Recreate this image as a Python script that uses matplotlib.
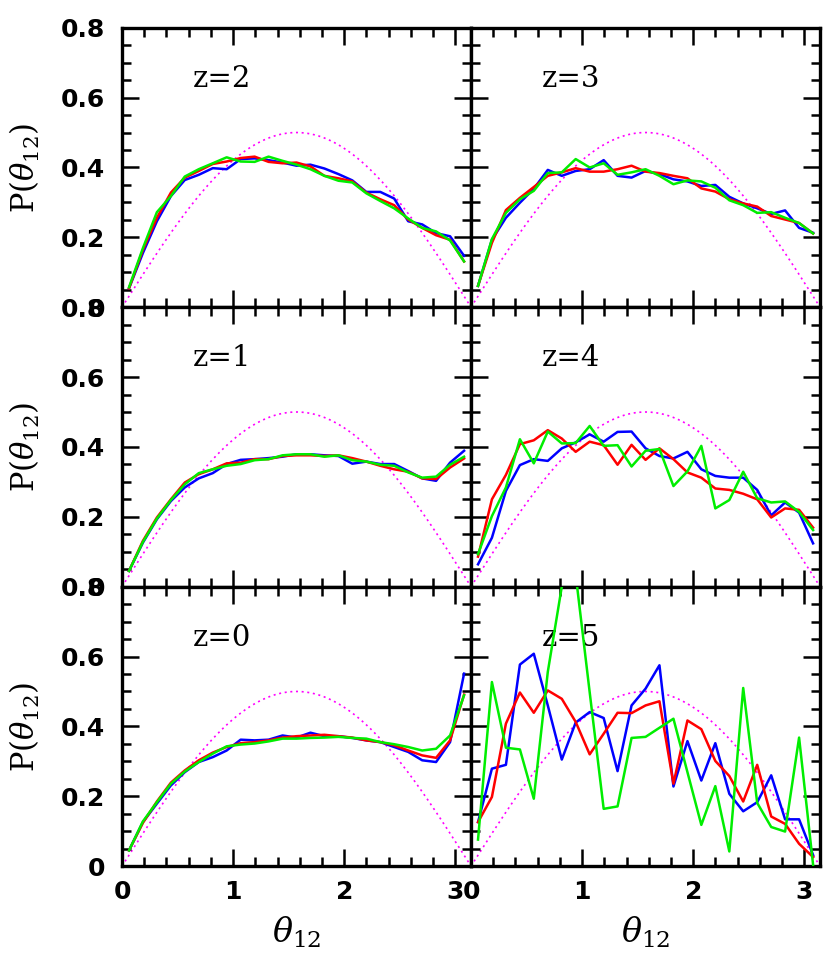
import numpy as np
import matplotlib
matplotlib.use("Agg")
import matplotlib.pyplot as plt
from matplotlib.ticker import MultipleLocator

# bin centres of theta_12 (25 bins over 0..pi)
theta = [0.063, 0.188, 0.314, 0.440, 0.565, 0.691, 0.817, 0.942, 1.068, 1.194,
         1.319, 1.445, 1.571, 1.696, 1.822, 1.948, 2.073, 2.199, 2.325, 2.450,
         2.576, 2.702, 2.827, 2.953, 3.079]

z_labels = ["z=2", "z=3", "z=1", "z=4", "z=0", "z=5"]

# z=2
blue_z2 = [0.054, 0.155, 0.246, 0.318, 0.364, 0.379, 0.398, 0.395, 0.424, 0.426, 0.421, 0.414, 0.405,
           0.408, 0.397, 0.381, 0.363, 0.330, 0.330, 0.311, 0.246, 0.237, 0.212, 0.203, 0.147]
red_z2 = [0.054, 0.164, 0.256, 0.328, 0.371, 0.390, 0.410, 0.417, 0.427, 0.431, 0.416, 0.412, 0.414,
          0.403, 0.376, 0.369, 0.360, 0.328, 0.309, 0.292, 0.251, 0.227, 0.206, 0.193, 0.131]
green_z2 = [0.057, 0.169, 0.272, 0.318, 0.374, 0.395, 0.412, 0.429, 0.417, 0.416, 0.431, 0.419, 0.408,
            0.395, 0.376, 0.362, 0.357, 0.326, 0.304, 0.283, 0.254, 0.227, 0.217, 0.191, 0.131]

# z=3
blue_z3 = [0.061, 0.193, 0.256, 0.299, 0.339, 0.393, 0.376, 0.390, 0.395, 0.421, 0.376, 0.371, 0.390,
           0.381, 0.366, 0.360, 0.347, 0.350, 0.316, 0.297, 0.283, 0.267, 0.277, 0.227, 0.213]
red_z3 = [0.061, 0.184, 0.278, 0.313, 0.344, 0.376, 0.386, 0.398, 0.388, 0.388, 0.395, 0.405, 0.388,
          0.384, 0.376, 0.369, 0.340, 0.331, 0.309, 0.297, 0.288, 0.261, 0.251, 0.241, 0.211]
green_z3 = [0.061, 0.195, 0.270, 0.309, 0.333, 0.384, 0.386, 0.424, 0.400, 0.412, 0.379, 0.386, 0.395,
            0.376, 0.352, 0.363, 0.360, 0.342, 0.306, 0.292, 0.270, 0.272, 0.256, 0.241, 0.211]

# z=1
blue_z1 = [0.045, 0.126, 0.193, 0.245, 0.284, 0.310, 0.325, 0.351, 0.363, 0.365, 0.368, 0.372, 0.379,
           0.379, 0.376, 0.374, 0.352, 0.358, 0.351, 0.351, 0.331, 0.310, 0.303, 0.355, 0.389]
red_z1 = [0.045, 0.131, 0.198, 0.250, 0.298, 0.322, 0.336, 0.353, 0.355, 0.365, 0.365, 0.374, 0.376,
          0.376, 0.374, 0.376, 0.368, 0.358, 0.346, 0.336, 0.329, 0.310, 0.308, 0.341, 0.367]
green_z1 = [0.045, 0.128, 0.195, 0.248, 0.293, 0.325, 0.336, 0.346, 0.351, 0.362, 0.365, 0.376, 0.379,
            0.379, 0.372, 0.376, 0.362, 0.358, 0.349, 0.346, 0.327, 0.312, 0.315, 0.349, 0.372]

# z=4
blue_z4 = [0.064, 0.140, 0.274, 0.348, 0.365, 0.360, 0.396, 0.413, 0.436, 0.415, 0.443, 0.444, 0.396,
           0.374, 0.367, 0.386, 0.336, 0.317, 0.312, 0.312, 0.277, 0.204, 0.241, 0.212, 0.124]
red_z4 = [0.086, 0.250, 0.320, 0.408, 0.419, 0.448, 0.424, 0.386, 0.415, 0.405, 0.349, 0.406, 0.363,
          0.396, 0.365, 0.327, 0.312, 0.281, 0.277, 0.266, 0.250, 0.198, 0.224, 0.220, 0.169]
green_z4 = [0.093, 0.202, 0.284, 0.422, 0.353, 0.444, 0.410, 0.411, 0.460, 0.403, 0.405, 0.344, 0.389,
            0.394, 0.288, 0.330, 0.403, 0.224, 0.248, 0.329, 0.253, 0.241, 0.244, 0.214, 0.162]

# z=0
blue_z0 = [0.045, 0.126, 0.179, 0.231, 0.269, 0.298, 0.312, 0.331, 0.362, 0.360, 0.362, 0.374, 0.368,
           0.382, 0.372, 0.372, 0.367, 0.360, 0.355, 0.341, 0.327, 0.303, 0.298, 0.355, 0.551]
red_z0 = [0.045, 0.124, 0.185, 0.239, 0.274, 0.303, 0.325, 0.341, 0.352, 0.355, 0.360, 0.368, 0.372,
          0.374, 0.376, 0.372, 0.368, 0.360, 0.355, 0.346, 0.331, 0.317, 0.310, 0.360, 0.491]
green_z0 = [0.045, 0.128, 0.183, 0.236, 0.271, 0.298, 0.322, 0.343, 0.348, 0.351, 0.357, 0.365, 0.365,
            0.367, 0.368, 0.370, 0.367, 0.365, 0.355, 0.349, 0.341, 0.331, 0.336, 0.374, 0.489]

# z=5
blue_z5 = [0.126, 0.279, 0.290, 0.577, 0.608, 0.460, 0.305, 0.411, 0.441, 0.424, 0.272, 0.460, 0.508,
           0.575, 0.228, 0.358, 0.245, 0.352, 0.207, 0.157, 0.183, 0.260, 0.134, 0.134, 0.032]
red_z5 = [0.126, 0.198, 0.408, 0.497, 0.439, 0.503, 0.479, 0.413, 0.320, 0.379, 0.439, 0.438, 0.460,
          0.472, 0.236, 0.417, 0.392, 0.301, 0.258, 0.185, 0.290, 0.142, 0.121, 0.064, 0.026]
green_z5 = [0.076, 0.527, 0.339, 0.334, 0.193, 0.556, 0.800, 0.835, 0.498, 0.164, 0.171, 0.367, 0.370,
            0.396, 0.422, 0.269, 0.118, 0.229, 0.042, 0.510, 0.181, 0.112, 0.099, 0.368, 0.004]

blues = [blue_z2, blue_z3, blue_z1, blue_z4, blue_z0, blue_z5]
reds = [red_z2, red_z3, red_z1, red_z4, red_z0, red_z5]
greens = [green_z2, green_z3, green_z1, green_z4, green_z0, green_z5]

plt.rcParams["mathtext.fontset"] = "dejavuserif"

fig, axes = plt.subplots(3, 2, figsize=(8.3, 9.56), dpi=100)
fig.subplots_adjust(left=0.147, right=0.988, top=0.971, bottom=0.094, hspace=0, wspace=0)

x_model = np.linspace(0, np.pi, 300)

for k, ax in enumerate(axes.flat):
    row, col = divmod(k, 2)
    ax.plot(x_model, 0.5 * np.sin(x_model), color="magenta", ls=(0, (1.2, 2.2)), lw=1.2, zorder=1)
    ax.plot(theta, blues[k], color="#0000ff", lw=1.8, zorder=2)
    ax.plot(theta, reds[k], color="#ff0000", lw=1.8, zorder=3)
    ax.plot(theta, greens[k], color="#00ee00", lw=1.8, zorder=4)

    ax.set_xlim(0, np.pi)
    ax.set_ylim(0, 0.8)
    ax.xaxis.set_major_locator(MultipleLocator(1))
    ax.xaxis.set_minor_locator(MultipleLocator(0.2))
    ax.yaxis.set_major_locator(MultipleLocator(0.2))
    ax.yaxis.set_minor_locator(MultipleLocator(0.05))
    ax.tick_params(which="both", direction="in", top=True, right=True, width=1.8)
    ax.tick_params(which="major", length=12.5)
    ax.tick_params(which="minor", length=6.5)
    ax.tick_params(axis="y", pad=12)
    ax.tick_params(axis="x", pad=10)
    for sp in ax.spines.values():
        sp.set_linewidth(2.4)

    ax.text(0.203, 0.789, z_labels[k], transform=ax.transAxes, fontsize=21,
            family="DejaVu Serif", va="baseline", ha="left")

    if col == 0:
        ax.set_yticks([0, 0.2, 0.4, 0.6, 0.8])
        ax.set_yticklabels(["0", "0.2", "0.4", "0.6", "0.8"])
        for lab in ax.get_yticklabels():
            lab.set_fontsize(18)
            lab.set_fontweight("bold")
        ax.set_ylabel(r"P$(\theta_{12})$", fontsize=22, family="DejaVu Serif")
        ax.yaxis.set_label_coords(-0.23, 0.5)
    else:
        ax.set_yticklabels([])

    if row == 2:
        ax.set_xticks([0, 1, 2, 3])
        ax.set_xticklabels(["0", "1", "2", "3"])
        for lab in ax.get_xticklabels():
            lab.set_fontsize(18)
            lab.set_fontweight("bold")
        ax.set_xlabel(r"$\theta_{12}$", fontsize=24)
        ax.xaxis.set_label_coords(0.5, -0.175)
    else:
        ax.set_xticklabels([])

fig.savefig("out.png", dpi=100)
